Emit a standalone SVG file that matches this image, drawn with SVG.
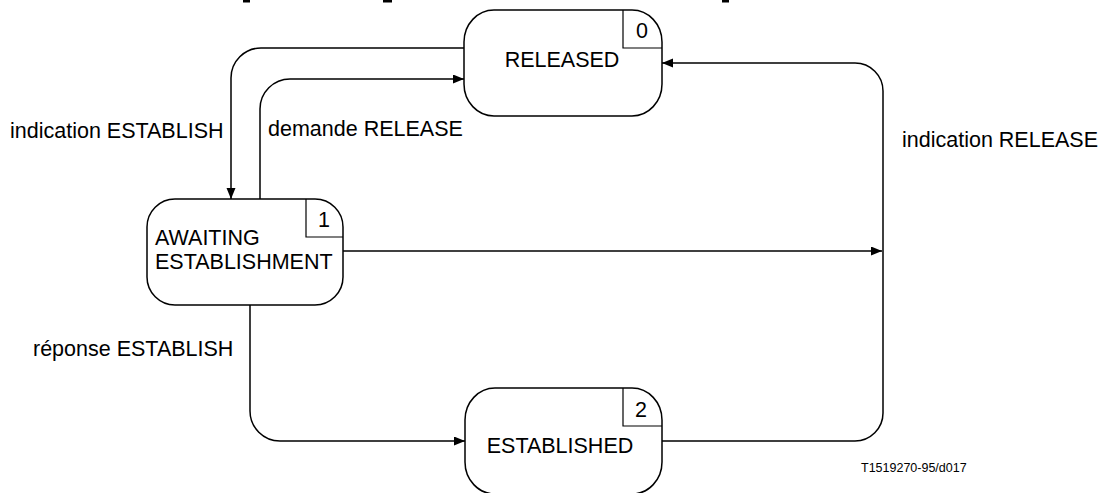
<svg xmlns="http://www.w3.org/2000/svg" width="1098" height="493" viewBox="0 0 1098 493">
<style>
.node{fill:#fff;stroke:#000;stroke-width:1.5}
.box{fill:none;stroke:#000;stroke-width:1.2}
.t{font-family:"Liberation Sans",Arial,sans-serif;font-size:21.5px;fill:#000}
.c{fill:none;stroke:#000;stroke-width:1.5}
.ref{font-family:"Liberation Sans",Arial,sans-serif;font-size:12.5px;fill:#000}
</style>
<defs>
<marker id="ah" markerUnits="userSpaceOnUse" markerWidth="12" markerHeight="10" refX="11" refY="4.5" orient="auto">
<path d="M0,0 L11,4.5 L0,9 Z" fill="#000"/>
</marker>
</defs>
<g id="top-marks">
<rect x="243" y="0" width="7" height="2.5" fill="#000"/>
<rect x="383" y="0" width="9" height="2.5" fill="#000"/>
<rect x="722" y="0" width="7" height="2.5" fill="#000"/>
</g>
<g id="connectors">
<path class="c" d="M464,48 H261 A30,30 0 0 0 231,78 V199" marker-end="url(#ah)"/>
<path class="c" d="M260,199 V109 A30,30 0 0 1 290,79 H464" marker-end="url(#ah)"/>
<path class="c" d="M343,251 H882" marker-end="url(#ah)"/>
<path class="c" d="M662,441 H855 A28,28 0 0 0 883,413 V91 A28,28 0 0 0 855,63 H662" marker-end="url(#ah)"/>
<path class="c" d="M250,305 V411 A30,30 0 0 0 280,441 H465" marker-end="url(#ah)"/>
</g>
<g id="labels">
<text class="t" x="10" y="138">indication ESTABLISH</text>
<text class="t" x="268" y="136">demande RELEASE</text>
<text class="t" x="902" y="147">indication RELEASE</text>
<text class="t" x="33" y="356">réponse ESTABLISH</text>
<text class="ref" x="861" y="472">T1519270-95/d017</text>
</g>
<g id="released">
<rect class="node" x="464" y="10" width="198" height="106" rx="30" ry="32"/>
<path class="box" d="M623,10 V48 H662"/>
<text class="t" x="642" y="38" text-anchor="middle">0</text>
<text class="t" x="562" y="67" text-anchor="middle">RELEASED</text>
</g>
<g id="awaiting">
<rect class="node" x="147" y="199" width="196" height="106" rx="28" ry="28"/>
<path class="box" d="M306,199 V237 H343"/>
<text class="t" x="324" y="227" text-anchor="middle">1</text>
<text class="t" x="155" y="245">AWAITING</text>
<text class="t" x="155" y="269">ESTABLISHMENT</text>
</g>
<g id="established">
<rect class="node" x="465" y="388" width="197" height="106" rx="30" ry="32"/>
<path class="box" d="M623,388 V426 H662"/>
<text class="t" x="641" y="417" text-anchor="middle">2</text>
<text class="t" x="560" y="453" text-anchor="middle">ESTABLISHED</text>
</g>
</svg>
